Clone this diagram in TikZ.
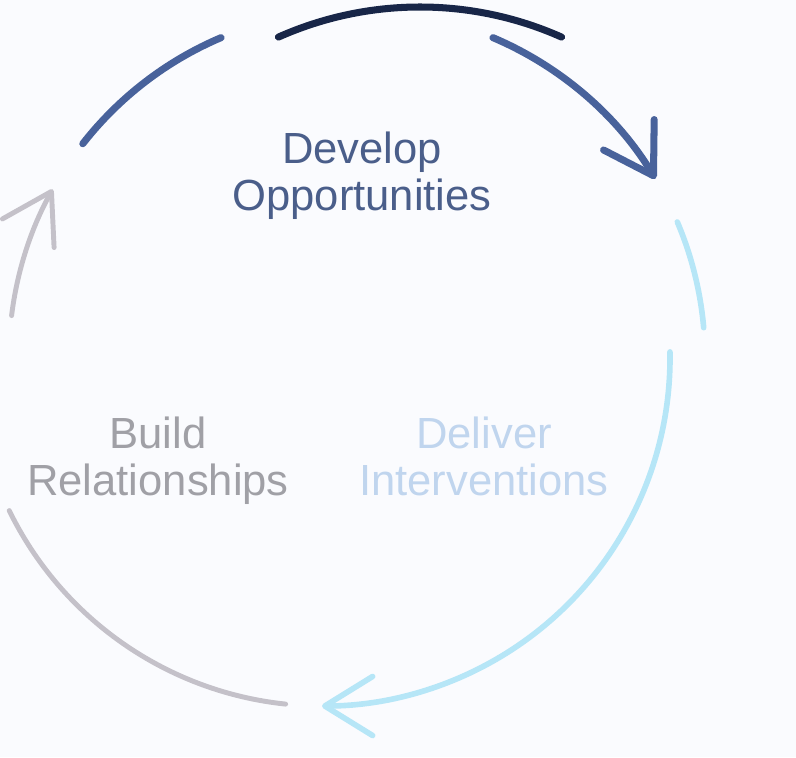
\documentclass[tikz,border=0pt]{standalone}
\usepackage{fontspec}
\setmainfont{Liberation Sans}
\usetikzlibrary{arrows.meta, calc}
\definecolor{devblue}{RGB}{72, 98, 155}
\definecolor{devtext}{RGB}{74, 94, 138}
\definecolor{devdark}{RGB}{24, 38, 72}
\definecolor{delcyan}{RGB}{182, 230, 247}
\definecolor{deltext}{RGB}{192, 213, 238}
\definecolor{bldgray}{RGB}{196, 193, 201}
\definecolor{bldtext}{RGB}{160, 160, 166}
\definecolor{pagebg}{RGB}{250, 251, 254}

\tikzset{
  cycarc/.style={line width=#1, line cap=round},
  cyctip/.style={-{Straight Barb[round, length=34pt, width=42pt]}},
  stagelabel/.style={anchor=north, inner sep=0pt, align=center, font=\fontsize{31}{33.5}\selectfont}
}

\begin{document}
\begin{tikzpicture}
  % Canvas
  \fill[pagebg] (0,0) rectangle (19.9,18.925);
  \useasboundingbox (0,0) rectangle (19.9,18.925);
  \coordinate (top) at (8.925,9.975);
  \coordinate (low) at (8.05,9.975);
  \coordinate (shift) at (10.5,10.05);

  % Develop Opportunities
  \draw[devblue, cycarc=5pt] ($(top)+(142:8.7)$) arc[start angle=142, end angle=113, radius=8.7];
  \draw[devdark, cycarc=5pt] ($(shift)+(114:8.7)$) arc[start angle=114, end angle=66, radius=8.7];
  \draw[devblue, cycarc=5pt, cyctip] ($(top)+(67:8.7)$) arc[start angle=67, end angle=31, radius=8.7];

  % Deliver Interventions
  \draw[delcyan, cycarc=4pt] ($(top)+(23:8.7)$) arc[start angle=23, end angle=5, radius=8.7];
  \draw[delcyan, cycarc=4pt, cyctip] ($(low)+(1:8.7)$) arc[start angle=1, end angle=-90, radius=8.7];

  % Build Relationships
  \draw[bldgray, cycarc=3.5pt] ($(low)+(264:8.7)$) arc[start angle=264, end angle=206, radius=8.7];
  \draw[bldgray, cycarc=3.5pt, cyctip] ($(top)+(173:8.7)$) arc[start angle=173, end angle=151, radius=8.7];

  % Labels
  \node[stagelabel, text=devtext] (develop) at (9.05,15.625) {Develop\\Opportunities};
  \node[stagelabel, text=bldtext] (build) at (3.95,8.5) {Build\\Relationships};
  \node[stagelabel, text=deltext] (deliver) at (12.1,8.5) {Deliver\\Interventions};
\end{tikzpicture}
\end{document}
